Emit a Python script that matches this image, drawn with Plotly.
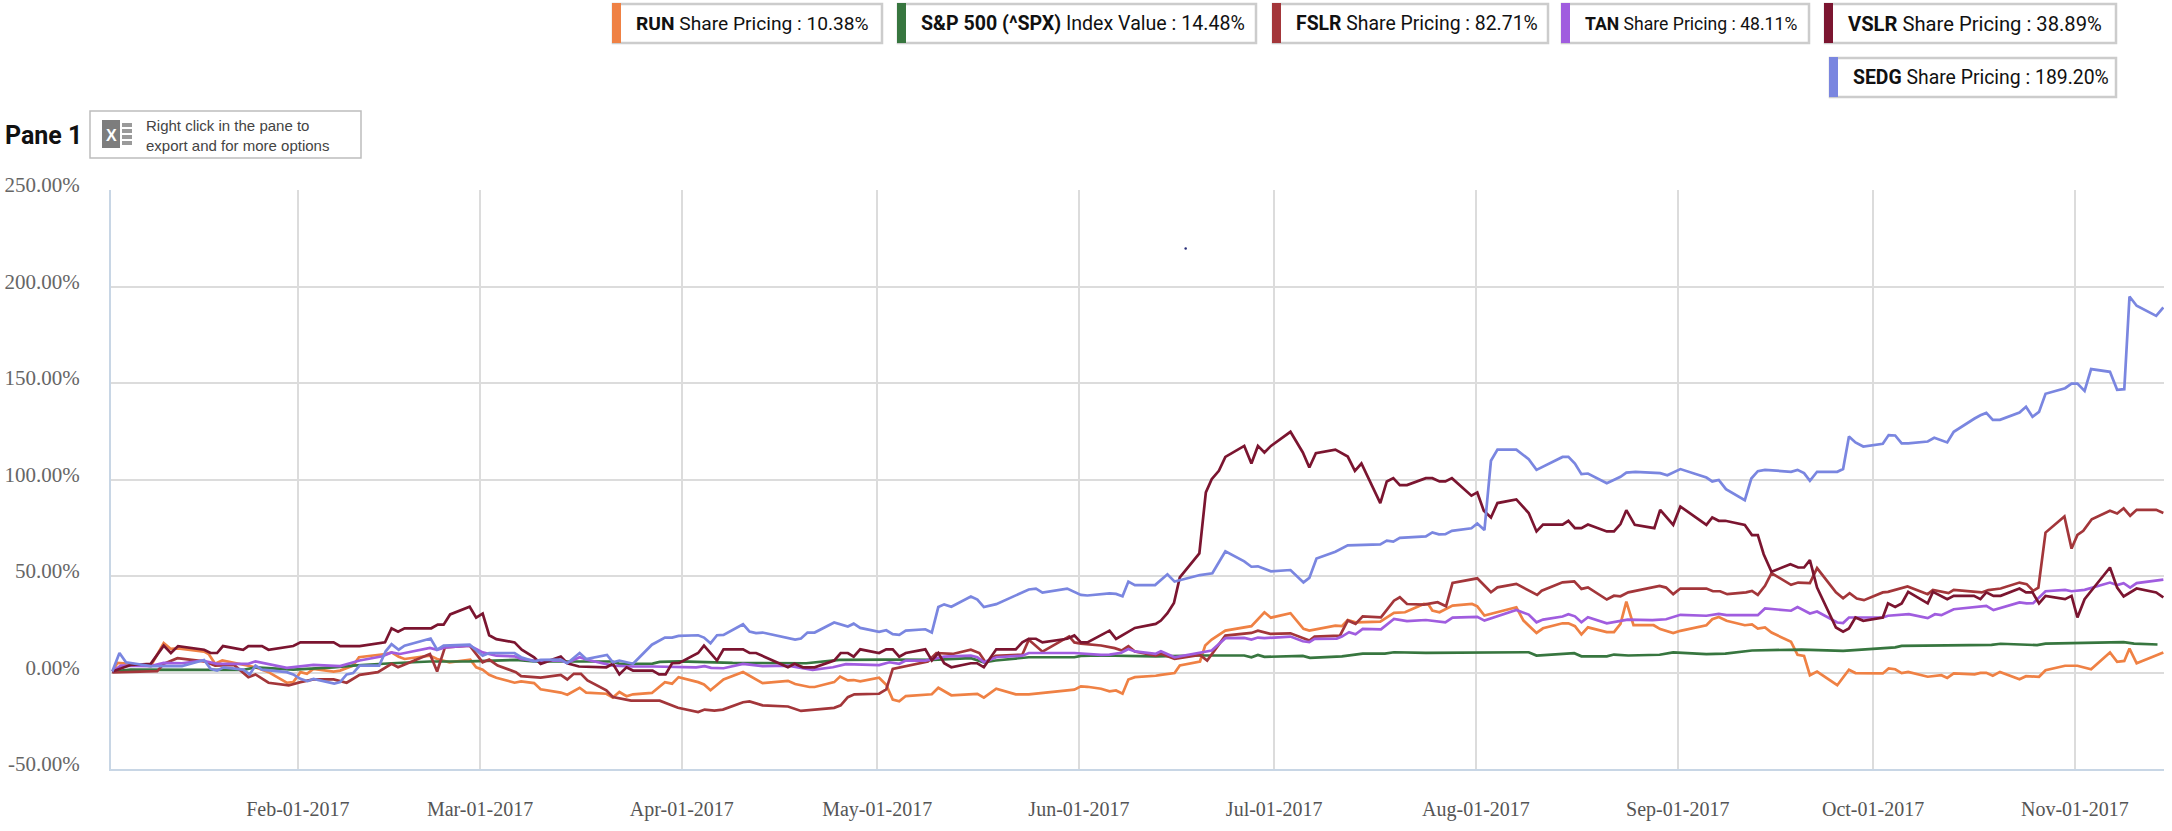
import numpy as np
import pandas as pd
import plotly.graph_objects as go

# values: x = day of year 2017, y = % change
run_days = [3.5,4.3,6.3,9.4,11.4,12.5,13.6,17.6,18.3,19.3,20.4,22.4,25.5,27.5,30.3,31.3,32.4,33.4,34.4,37.5,38.5,40.5,41.4,45.5,46.4,47.5,48.4,52.3,53.4,55.3,58.5,59.4,60.4,61.4,62.5,65.3,66.3,68.3,69.3,72.4,73.4,75.3,76.3,
    79.4,80.4,81.4,82.5,83.5,86.4,88.4,89.5,90.5,93.5,94.4,95.4,97.4,100.4,103.4,107.3,108.4,110.6,111.4,114.4,115.3,116.5,117.4,118.4,121.3,122.4,123.4,124.4,125.4,128.4,129.4,130.4,132.4,136.4,137.4,139.3,142.3,144.3,151.3,152.3,153.3,
    155.4,156.7,157.7,158.7,159.6,160.6,163.8,164.6,166.7,167.5,170.6,171.4,172.4,174.5,178.5,180.5,181.5,184.5,186.5,187.4,191.4,192.4,193.3,194.5,198.3,200.4,202.1,205,205.7,206.3,207.4,209.4,212.4,213.2,214.3,219.2,220.3,222.3,223.3,226.3,227.2,228.2,229.2,230.2,233.1,234.2,235.2,236.1,
    237.2,240.3,241.3,243.3,244.4,248.4,249.3,250.3,251.5,254.3,255.4,256.3,257.4,258.4,261.4,262.4,263.4,264.3,265.4,268.5,270.3,271.3,275.5,276.4,277.4,278.4,279.4,282.4,284.5,285.4,286.4,289.6,290.5,291.4,292.4,293.5,296.5,297.5,299.5,300.5,303.5,305.4,307.5,310.4,311.5,312.6,313.4,314.5,318.6]
run_vals = [0.5,5,4.5,3.3,15.2,12.2,12.5,10.8,9.6,4.5,6.2,4.8,2.7,0.2,-5.3,-5,0.2,-0.7,1.9,0.5,1,3.6,7.9,9.6,10.4,8.2,7,8.7,7,5.3,6.7,2.7,1.4,-1.2,-2.7,-5.3,-4.6,-5.5,-8.7,-10.4,-11.5,-7.9,-10.4,
    -11,-13,-10.1,-12.3,-11.3,-10.6,-5,-5.8,-2.4,-5,-6.2,-9.2,-3.6,0.2,-5.5,-4.3,-6,-7.5,-7.5,-5,-2.1,-4.1,-3.9,-4.6,-2.7,-6.3,-14,-14.9,-12.2,-11.3,-11.3,-7.9,-11.8,-11.1,-13,-8.4,-11.3,-11.3,-8.9,-7.2,-7.4,
    -8.4,-9.8,-9.3,-11,-3.6,-2.4,-1.7,-1.2,-0.3,3.6,5.7,14,17.1,21.7,24,31.2,28.4,30.7,22.6,21.7,24.3,24,27.2,26,26.4,30.9,31.2,35.5,35.2,32.1,31.2,34.7,35.5,34.3,29.5,33.8,26.9,20.5,22.9,25.5,25.5,24,19.7,23.4,20.9,20.9,25.2,36.7,
    24.5,24.5,22.5,20.4,21.6,24.5,27.6,28.8,26.8,24.5,24.9,22.8,23.3,20.7,15.9,9.2,8.6,-1.4,0.5,-6.6,1.4,-0.3,-0.5,2.1,1.7,-0.3,0.3,-2.2,-1.4,-2.8,-0.5,-1,-0.2,-0.2,-1.7,0.3,-3.5,-1.9,-2.2,1.2,3.5,3.5,1.7,10.4,5.5,6,12.4,4.8,10.4]

spx_days = [3.5,6.3,17.6,23.7,25.5,31.3,37.5,40.5,46.4,52.3,58.4,65.5,68.3,80.3,
    81.4,86.5,87.6,90.6,98.8,110.1,115.2,122.4,129.5,135.4,137.4,139.2,144.3,151.3,152.3,
    155.4,163.8,170.6,177.4,178.5,179.5,180.5,186.4,187.5,192.4,195.6,199,200.4,205.3,213.2,221.1,222.3,226.3,228.1,229.2,233.1,234.2,
    236.4,241.2,243.3,248.4,251.3,255.4,263,269.4,277.4,278.4,292.2,293.6,299.2,300.5,307.1,312.5,314.1,317.7]
spx_vals = [0.5,1.5,1.4,1.4,2.7,1.5,2.7,3.6,4.8,5.7,5.8,6.5,5.7,5.7,
    4.5,4.6,5.5,5.8,5,4.8,6.5,6.7,6.5,7.4,5.3,6.2,7.9,7.9,8.6,
    8.8,8.4,8.8,8.8,7.9,9.1,8.1,8.6,7.6,8.4,9.8,9.8,10.5,10.2,10.5,10.5,8.8,9.8,10,8.4,8.4,9.3,
    8.8,9.2,10.4,9.5,9.8,11.4,11.9,11.2,13,13.8,14.3,14.9,14.2,15,15.4,15.7,15,14.5]

fslr_days = [3.5,6.3,10.4,11.4,13.5,17.6,19.3,22.2,24.4,25.5,27.5,30.6,32.4,34.4,37.5,39.5,41.5,44.3,46.4,47.4,52.3,53.4,54.6,58.4,60.4,61.4,62.7,65.5,66.3,69.3,72.4,73.4,74.4,75.5,76.5,
    79.4,80.4,83.2,87.6,90.4,93.5,94.5,96,97.3,100.4,101.4,103.4,107.3,109.3,114.4,115.4,116.5,117.5,121.3,122.4,123.4,128.8,130.1,132.6,135.4,136.7,137.7,139.2,143.3,144.3,146.4,150.5,151.3,152.3,
    155.4,157.5,158.6,159.6,160.6,163.8,164.6,166.7,170.6,171.7,174.5,178.5,179.5,181.4,184.5,187.4,188.2,192.1,193.3,194.5,195.6,198.4,200.4,201.3,202.4,205,207.1,208.4,209.4,213.2,215.3,216.3,219.2,222.4,223.1,226.3,228.1,229.2,230.2,233.1,234.2,235.2,
    236.4,241.2,242.2,243.3,244.4,248.4,249.4,250.5,251.6,254.5,255.4,256.3,257.4,258.4,261.4,262.5,264.3,265.4,268.3,269.4,270.4,271.5,272.6,275.5,276.3,279.3,282.4,283.2,285.6,286.4,290.7,291.7,293.6,296.5,297.6,298.6,299.4,300.5,303.4,304.5,305.4,306.3,307.6,310.4,311.5,312.5,313.5,314.5,317.5,318.6]
fslr_vals = [0,0.2,0.7,4.5,7.4,5.8,3.6,3.9,-2.4,-1,-5.3,-6.7,-5,-3.6,-3.6,-5.3,-1.2,0.2,4.5,2.7,9.6,0.5,13,13.9,5.3,6.7,3.6,0.2,-1.9,-2.7,-1.2,-3.6,-0.7,-0.7,-4.1,
    -9.2,-12.7,-14.6,-14.6,-18.3,-20.5,-19.2,-19.7,-19.2,-15.4,-15,-17,-17.6,-19.9,-18.3,-17,-12.8,-11.3,-11,-8.7,1.9,5.7,10.1,9.6,11.8,10.1,5,8.7,9.2,17,10.8,18.7,15.6,15,
    14,12.6,11.4,13.6,10.9,8.8,9.7,7.1,9.1,6.2,19.1,20.5,21.7,20,20.3,16.6,18.6,19.1,26.9,25.2,29.1,28.6,37.2,39,35.5,35.2,36.4,34.3,46.4,48.8,41.6,44.1,45.9,40.2,42.4,46.7,47.2,43.3,44.1,37.8,39.8,39.5,
    41.5,44.9,44,40.6,43.5,43.5,42.1,42.1,40.6,41.5,42.3,40.2,44.9,51.5,45.4,46.6,46.3,54.1,41.5,38.5,41.1,38.3,37.5,41.5,41.8,44.6,40.6,42.8,41.1,42.8,41.5,42.7,43.5,46.6,45.8,42.3,44,72.5,80.8,64.2,71.3,73.4,79.4,83.8,82.4,85.1,81.2,84.3,84.3,82.7]

tan_days = [3.5,4.8,9.4,11.4,14.2,17.3,19.6,24.4,25.5,30.3,34.4,38.5,41.5,45,46.4,47.7,52.3,53.4,54.6,58.4,60.4,62.5,65.3,66.3,68.3,72.4,73.4,75.3,76.3,
    80.4,83.5,86.5,93.2,94.5,95.5,97.4,100.4,103.4,107.3,111.1,114.2,116.2,121.3,122.9,124.4,125.4,128.4,131.3,135.4,136.4,137.4,139.3,143.3,144.3,151.3,
    155.4,156.7,158.5,159.6,160.6,163.8,164.6,166.7,171.4,172.4,174.5,177.4,178.5,179.5,180.5,184.5,186.4,187.4,188.2,191.6,192.4,193.5,194.5,195.6,198.4,200.4,202.4,205.3,208.3,209.4,213.2,214.3,219.2,221.1,222.3,223.3,226.3,227.2,228.2,229.2,230.2,233.1,236.3,
    240.1,242.2,244.4,248.4,250.3,251.5,256.3,257.4,261.4,262.4,264.3,265.4,268.5,269.4,270.3,275.5,276.3,279.5,282.4,283.5,284.5,286.4,291.4,292.5,296.5,297.6,298.6,300.5,303.5,304.5,306.5,310.4,311.5,312.5,313.5,314.5,317.5,318.6]
tan_vals = [0.5,3.6,3.3,5,4.8,6.2,4.5,4.5,5.8,2.4,3.9,3.3,6.2,8.4,10.4,9.6,12.7,11.8,13,13.9,10.4,8.7,8.4,7,6.2,6.2,5,7.9,6.7,
    3.6,3.1,3.1,2.7,3.3,2.4,2.2,4.5,3.3,3.6,1.4,2.7,4.3,3.8,5.3,4.5,6.2,6.2,8.2,8.7,7.9,5.3,7.9,8.7,10.1,10.1,
    9.1,9.3,10.2,12.2,10.9,9.7,11,7.9,10.9,11.4,17.8,17.9,17.1,18.1,17.8,18.6,16.2,15.7,17.4,17.6,18.6,20.9,19.8,22.6,22.4,27.8,26.6,27.2,26,28.4,28.8,26.9,32.4,30,26,27.4,29,30.2,29.1,26,28.6,25.5,27.4,
    27.1,27.6,29.9,29.4,30.4,29.7,29.7,33.2,32,33.9,30.6,31.6,25.9,25.6,28.5,28.5,29.4,30.2,28.2,30.2,29.7,32.8,34.5,32.3,36.3,35.8,35.9,42.1,42.8,42.1,42.8,46.6,45.3,46.3,44,46.3,47.5,48.1]

vslr_days = [3.5,6.3,9.4,11.4,12.5,13.6,17.6,18.6,19.6,20.5,23.6,24.4,26.5,27.5,31.3,32.4,37.5,38.5,41.5,45.4,46.4,47.4,48.4,52.5,53.5,54.4,55.4,58.4,59.4,60.4,61.4,62.5,65.3,66.4,68.3,69.3,72.4,73.4,75.2,
    79.4,80.4,81.4,82.5,83.5,86.5,87.5,88.5,89.5,90.6,93.5,94.4,96.4,97.4,100.4,101.4,102.4,107.3,108.3,109.6,111.4,114.4,115.4,116.5,117.4,118.4,121.3,122.4,123.4,124.4,125.4,128.4,129.4,130.4,131.3,132.4,135.4,136.4,137.4,139.3,142.3,143.3,144.3,145.4,146.4,150.2,151.3,152.3,153.3,
    156.7,157.7,160.6,163.8,164.6,165.6,166.6,167.5,170.5,171.5,172.4,173.5,174.5,177.4,178.5,179.5,180.5,181.5,184.5,186.4,187.4,188.4,191.4,193.3,194.4,195.4,198.3,199.3,200.3,201.3,202.4,205.3,206.3,207.4,208.3,209.3,212.3,213.2,214.2,215.3,216.3,219.2,221.1,222.3,223.3,226.3,227.2,228.2,229.2,230.2,233.1,234.2,235.2,236.1,
    237.4,240.4,241.3,243.3,244.4,248.4,249.3,250.3,251.3,254.3,255.4,256.3,257.2,258.4,261.3,262.5,263.4,264.3,265.4,268.3,269.4,270.3,271.3,272.5,275.5,276.3,277.4,278.4,279.4,282.4,283.2,285.4,286.4,289.5,290.5,291.4,292.5,293.6,296.5,297.5,298.5,299.5,300.5,303.5,304.5,305.4,306.5,310.4,311.5,312.5,314.5,317.5,318.6]
vslr_vals = [0.5,3.9,4.5,13.9,10.1,13.7,11.8,10.1,10.1,13.7,11.8,13.7,13.7,11.8,13.7,15.6,15.6,13.7,13.7,15.6,22.9,21.1,22.9,22.9,24.8,24.8,30.1,34.1,28.4,30.5,19.3,17.3,15.6,11.8,7.9,4.5,8.2,4.8,3.1,
    2.7,4.5,-1,2.7,1,1,-1,-1,4.8,5,10.1,13.9,6.2,12,12,10.1,10.1,2.7,4.5,2.7,2.7,6.2,10.1,10.1,8.2,12,10.1,12,12,8.2,10.1,12,6.2,10.1,4.8,2.7,4.8,4.8,2.7,12,12,15.6,17.5,17.5,15.6,17.5,19.2,15.6,15.6,
    21.7,17.4,23.1,25.2,26.9,30.7,36,49.3,61.7,93.3,100.2,104.5,111.7,117.4,108.3,117.4,114,117.4,124.7,114,106.2,113.6,115.5,111.9,104.5,108.3,87.8,99,100.7,97.1,97.1,100.7,100.7,99,99,100.7,91.6,93.3,83.8,80.3,87.8,89.7,82.6,73.1,76.6,76.6,78.6,74.8,74.8,76.7,73.1,73.1,76.9,84.1,
    76.5,74.8,84.3,76.5,86,76.5,80.3,78.6,78.6,76.5,71.2,71.2,61.3,52.2,56.1,54.4,54.4,58.2,44,23.3,21.1,22.8,28.5,26.8,28.5,35.8,34,35.8,41.8,35.8,41.8,38,39.7,39.7,38,41.5,39.7,39.7,43.5,41.5,41.5,35.8,39.7,38,39.7,28.5,38,54.4,44,39.4,43.5,41.5,38.9]

sedg_days = [3.5,4.6,5.6,9.4,14.2,17.6,18.6,19.6,20.6,23.6,24.6,25.5,26.5,30.3,31.3,32.4,33.5,34.4,37.6,38.5,39.5,40.5,41.5,44.5,45.5,46.4,47.5,48.4,52.4,53.4,54.4,58.4,60.4,61.4,65.3,66.3,68.3,69.3,72.4,73.4,75.3,76.3,
    79.5,80.4,81.4,83.5,86.4,87.5,88.4,89.5,90.5,93.5,94.4,95.4,96.4,97.4,100.4,101.4,102.4,103.4,107.3,108.4,109.3,110.3,111.4,114.4,116.5,117.4,118.4,121.3,122.4,123.4,124.4,125.4,128.4,129.4,130.4,131.3,132.4,135.4,136.4,137.4,139.3,142.3,144.3,145.4,146.4,150.2,151.3,152.3,153.3,
    156.7,157.7,158.7,159.6,160.6,163.7,165.6,166.7,170.6,172.5,174.5,177.4,178.5,179.5,181.5,184.5,186.5,187.4,188.5,191.4,193.3,198.3,199.3,200.3,201.3,205.3,206.3,207.3,208.3,209.3,212.3,213.2,214.3,215.3,216.3,219.2,221.1,222.3,226.3,227.2,228.2,229.2,230.2,233.1,235.2,236.1,
    237.5,241.3,242.4,244.4,248.4,249.3,250.3,251.4,254.3,255.3,256.3,257.4,261.4,262.4,263.4,264.3,265.4,268.5,269.4,270.3,271.3,272.5,275.5,276.4,277.4,278.4,279.4,282.4,283.4,285.4,286.4,289.6,290.5,291.4,292.4,293.5,296.5,297.5,298.5,299.5,300.5,303.5,304.5,305.4,306.5,307.5,310.4,311.5,312.6,313.4,314.5,317.5,318.6]
sedg_vals = [0.5,10.1,5.3,3.3,3.3,6.5,1.9,1,2.7,1.5,-1,3.6,1.5,0.2,-1,-3.3,-4.5,-3.3,-5.8,-5,-1,-0.3,3.6,3.6,11,14.7,11.8,13.9,17.6,11.8,13.9,14.4,8.7,10.1,10.1,7.9,5.8,6.5,6.7,4.8,10.1,7,
    9.1,5.3,6.2,4.5,14.4,16.4,18.1,18.1,19,19.3,18.1,15.1,19.3,19.5,25,21.2,20.4,20.7,18.1,17,17.6,20.7,20.7,25.9,23.8,25.3,23.1,21.1,21.9,19.9,19.5,21.7,22.4,20.7,33.9,35.3,34.1,39.4,37.8,33.9,35.4,40.1,43,43.5,41.4,43.5,41.8,40.2,39.9,
    41,40.7,39.5,47.1,45.3,45.3,50.9,47.1,50.5,51.4,62.8,57.6,54.8,55,52.4,53.1,46.7,49,59.1,62.6,65.9,66.4,68.3,67.8,69.8,70.5,72.6,71.6,71.7,73.4,74.7,77.2,73.8,109.7,115.5,115.5,110.5,105,111.7,111.7,108.3,102.8,103.1,98.1,101.4,103.6,
    104,103.3,102.2,105.4,101,99,99.8,95,89.3,100.5,104.3,105,104,105,103.3,99.3,104,104,105.4,122.3,119.2,117.1,118.5,123,122.8,118.7,118.7,119.7,121.6,119.2,124.7,131.6,133.3,134.5,130.9,130.9,134.7,137.7,132.5,135,144.4,147.3,149.7,149.7,145.9,157.2,155.8,146.5,146.8,194.8,190,184.8,189.2]

stray_day = [168.4]
stray_val = [219.7]

tickers = ["RUN", "S&P 500 (^SPX)", "FSLR", "TAN", "VSLR", "SEDG"]
labels = ["Share Pricing", "Index Value", "Share Pricing", "Share Pricing", "Share Pricing", "Share Pricing"]
latest = ["10.38%", "14.48%", "82.71%", "48.11%", "38.89%", "189.20%"]
y_ticks = [-50, 0, 50, 100, 150, 200, 250]
y_tick_labels = ["-50.00%", "0.00%", "50.00%", "100.00%", "150.00%", "200.00%", "250.00%"]

colors = ["#ef8144", "#37763f", "#a3363a", "#a05ddf", "#7b1530", "#7a86e0"]
all_days = [run_days, spx_days, fslr_days, tan_days, vslr_days, sedg_days]
all_vals = [run_vals, spx_vals, fslr_vals, tan_vals, vslr_vals, sedg_vals]


def to_dates(days):
    return pd.Timestamp("2017-01-01") + pd.to_timedelta(np.array(days) - 1, unit="D")


# plot area in page pixels
L, R, T, B = 111, 2164, 190, 769


def px(x):
    return (x - L) / (R - L)


def py(y):
    return (B - y) / (B - T)


fig = go.Figure()
for name, days, vals, col in zip(tickers, all_days, all_vals, colors):
    fig.add_trace(go.Scatter(x=to_dates(days), y=vals, mode="lines", name=name,
                             line=dict(color=col, width=2.7)))
fig.add_trace(go.Scatter(x=to_dates(stray_day), y=stray_val, mode="markers",
                         marker=dict(color="#2a2f7a", size=2.5), showlegend=False))

shapes = []
annots = []

# legend boxes: left, right, top, bottom in page pixels, then text size (the TAN box is tighter)
boxes = [(613, 882, 4, 43, 19.2), (898, 1256, 4, 43, 19.6), (1273, 1548, 4, 43, 19.4),
         (1562, 1809, 4, 43, 17.6), (1825, 2116, 4, 43, 20.2), (1830, 2116, 58, 97, 19.4)]
for (x0, x1, y0, y1, fsize), t, lab, val, col in zip(boxes, tickers, labels, latest, colors):
    shapes.append(dict(type="rect", xref="paper", yref="paper", x0=px(x0), x1=px(x1), y0=py(y0), y1=py(y1),
                       fillcolor="white", line=dict(color="#cccccc", width=2.5)))
    shapes.append(dict(type="rect", xref="paper", yref="paper", x0=px(x0 - 1), x1=px(x0 + 8), y0=py(y0 - 1), y1=py(y1),
                       fillcolor=col, line=dict(width=0)))
    annots.append(dict(xref="paper", yref="paper", x=px(x0 + 21), y=py((y0 + y1) / 2), xanchor="left", yanchor="middle",
                       showarrow=False, text=f"<b>{t}</b> {lab} : {val}",
                       font=dict(family="Roboto", size=fsize, color="#111111")))

# "Pane 1" heading and the export hint box
annots.append(dict(xref="paper", yref="paper", x=px(3), y=py(135), xanchor="left", yanchor="middle", showarrow=False,
                   text="<b>Pane 1</b>", font=dict(family="Roboto", size=25, color="#111111")))
shapes.append(dict(type="rect", xref="paper", yref="paper", x0=px(90), x1=px(361), y0=py(111), y1=py(158),
                   fillcolor="white", line=dict(color="#bdbdbd", width=1.5)))
shapes.append(dict(type="rect", xref="paper", yref="paper", x0=px(102), x1=px(120), y0=py(120), y1=py(148),
                   fillcolor="#7d7d7d", line=dict(width=0)))
# the spreadsheet rows on the right of the icon
for row_top in [123, 129, 135, 141]:
    shapes.append(dict(type="rect", xref="paper", yref="paper", x0=px(122), x1=px(132), y0=py(row_top), y1=py(row_top + 4),
                       fillcolor="#9a9a9a", line=dict(width=0)))
annots.append(dict(xref="paper", yref="paper", x=px(111), y=py(135), xanchor="center", yanchor="middle", showarrow=False,
                   text="<b>X</b>", font=dict(family="Liberation Sans", size=16, color="white")))
annots.append(dict(xref="paper", yref="paper", x=px(144), y=py(135), xanchor="left", yanchor="middle", showarrow=False,
                   align="left", text="Right click in the pane to<br>export and for more options",
                   font=dict(family="Liberation Sans", size=15, color="#444444")))

fig.update_layout(
    width=2172,
    height=831,
    margin=dict(l=L, r=2172 - R, t=T, b=831 - B),
    paper_bgcolor="white",
    plot_bgcolor="white",
    showlegend=False,
    shapes=shapes,
    annotations=annots,
)
fig.update_xaxes(
    type="date",
    range=[to_dates([3.3])[0], to_dates([318.7])[0]],
    dtick="M1",
    tick0="2017-02-01",
    tickformat="%b-%d-%Y",
    tickfont=dict(family="Liberation Serif", size=20, color="#555555"),
    ticks="",
    showgrid=True,
    gridcolor="#dcdcdc",
    gridwidth=1.8,
    showline=True,
    linecolor="#c8d6e5",
    linewidth=2,
    zeroline=False,
    automargin=False,
    ticklabelstandoff=21,
)
fig.update_yaxes(
    range=[-50, 250],
    tickmode="array",
    tickvals=y_ticks,
    ticktext=y_tick_labels,
    tickfont=dict(family="Liberation Serif", size=21, color="#666666"),
    ticks="",
    showgrid=True,
    gridcolor="#dcdcdc",
    gridwidth=1.8,
    showline=True,
    linecolor="#c8d6e5",
    linewidth=2,
    zeroline=False,
    automargin=False,
    ticklabelshift=-5,
    ticklabelstandoff=25,
)

fig.write_html("out.html", config={"displayModeBar": False}, post_script="document.body.style.margin='0';")
